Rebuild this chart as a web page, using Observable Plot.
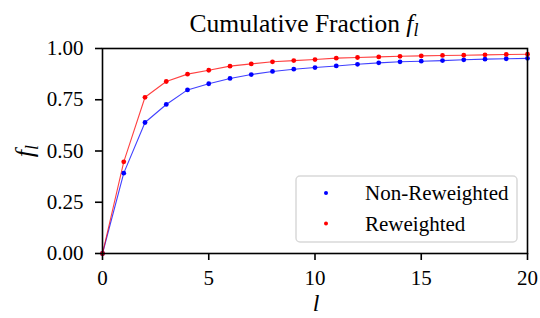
<!DOCTYPE html>
<html>
<head>
<meta charset="utf-8">
<script src="https://cdn.jsdelivr.net/npm/d3@7"></script>
<script src="https://cdn.jsdelivr.net/npm/@observablehq/plot@0.6"></script>
<style>
  html, body { margin: 0; padding: 0; background: #fff; }
  #chart svg { display: block; }
  #chart svg text { font-family: "Liberation Serif", "Times New Roman", serif !important; }
  #chart svg g[aria-label="x-axis tick label"] text,
  #chart svg g[aria-label="y-axis tick label"] text { font-size: 21px; }
</style>
</head>
<body>
<div id="chart"></div>
<script>
const ls = [0,1,2,3,4,5,6,7,8,9,10,11,12,13,14,15,16,17,18,19,20];
const nonReweighted = [0, 0.392, 0.639, 0.727, 0.798, 0.828, 0.854, 0.873, 0.888, 0.899, 0.907, 0.915, 0.923, 0.930, 0.935, 0.938, 0.941, 0.945, 0.948, 0.950, 0.952];
const reweighted = [0, 0.447, 0.762, 0.839, 0.875, 0.894, 0.914, 0.925, 0.935, 0.941, 0.946, 0.953, 0.956, 0.959, 0.962, 0.964, 0.966, 0.967, 0.969, 0.971, 0.972];
const seriesNames = ["Non-Reweighted", "Reweighted"];
const seriesColors = ["#0000ff", "#ff0000"];
const xTicks = [0, 5, 10, 15, 20];
const yTicks = [0, 0.25, 0.5, 0.75, 1.0];

const data = [];
ls.forEach((l, i) => {
  data.push({l, f: nonReweighted[i], s: seriesNames[0]});
  data.push({l, f: reweighted[i], s: seriesNames[1]});
});

const font = "'Liberation Serif', 'Times New Roman', serif";

const chart = Plot.plot({
  width: 540,
  height: 318,
  marginLeft: 102,
  marginRight: 13,
  marginTop: 48,
  marginBottom: 65,
  style: {fontFamily: font, fontSize: "21px", color: "#000", background: "#fff"},
  x: {domain: [0, 20], ticks: xTicks, label: null},
  y: {domain: [0, 1], ticks: yTicks, label: null},
  color: {domain: seriesNames, range: seriesColors},
  marks: [
    Plot.line(data, {x: "l", y: "f", z: "s", stroke: "s", strokeWidth: 1.1, strokeOpacity: 0.75}),
    Plot.dot(data, {x: "l", y: "f", fill: "s", r: 2.4}),
    Plot.frame({stroke: "#000", strokeWidth: 1.6}),
    Plot.axisX({ticks: xTicks, tickSize: 7, tickPadding: 10, strokeWidth: 1.6, fontSize: 21, tickFormat: d3.format("d")}),
    Plot.axisY({ticks: yTicks, tickSize: 7, tickPadding: 12, strokeWidth: 1.6, fontSize: 21, tickFormat: d3.format(".2f")})
  ]
});

document.getElementById("chart").appendChild(chart);

const svg = d3.select(chart);
// Title
const t = svg.append("text")
  .attr("x", 304).attr("y", 32)
  .attr("text-anchor", "middle")
  .style("font-family", font).style("font-size", "25.5px").attr("fill", "#000");
t.append("tspan").text("Cumulative Fraction ");
t.append("tspan").style("font-style", "italic").text("f");
t.append("tspan").style("font-style", "italic").style("font-size", "18px").attr("dy", 4).text("l");

// Y label
const yl = svg.append("text")
  .attr("transform", "translate(33,151) rotate(-90)")
  .attr("text-anchor", "middle")
  .style("font-family", font).style("font-size", "26px").attr("fill", "#000");
yl.append("tspan").style("font-style", "italic").text("f");
yl.append("tspan").style("font-style", "italic").style("font-size", "18px").attr("dy", 5).text("l");

// X label
svg.append("text")
  .attr("x", 316).attr("y", 311)
  .attr("text-anchor", "middle")
  .style("font-family", font).style("font-size", "24px").style("font-style", "italic")
  .attr("fill", "#000").text("l");

// Legend
const lg = svg.append("g");
lg.append("rect")
  .attr("x", 296).attr("y", 176).attr("width", 221).attr("height", 66)
  .attr("rx", 4).attr("fill", "#fff").attr("fill-opacity", 0.8)
  .attr("stroke", "#d9d9d9").attr("stroke-width", 1.5);
seriesNames.forEach((name, i) => {
  const cy = 193 + i * 30.5;
  lg.append("circle").attr("cx", 326).attr("cy", cy).attr("r", 2).attr("fill", seriesColors[i]);
  lg.append("text").attr("x", 365).attr("y", cy + 7)
    .attr("text-anchor", "start")
    .style("font-family", font).style("font-size", "21px").attr("fill", "#000").text(name);
});
</script>
</body>
</html>
